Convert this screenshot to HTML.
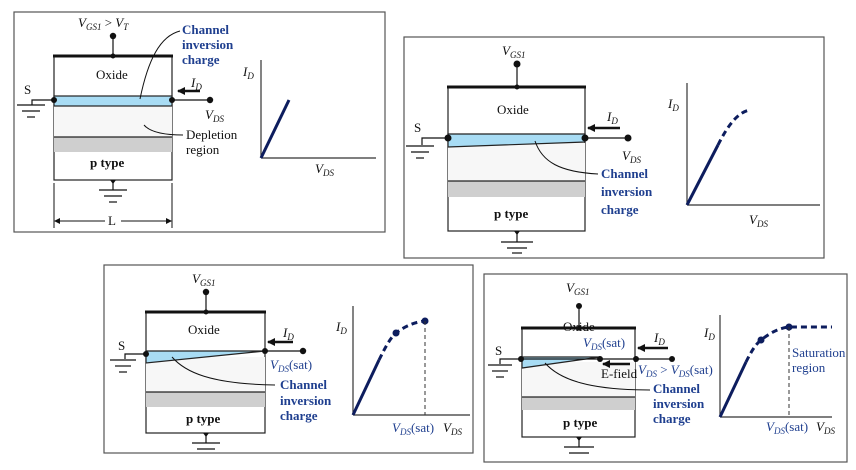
<!DOCTYPE html>
<html><head><meta charset="utf-8"><style>
html,body{margin:0;padding:0;background:#fff}
svg{display:block}
text{font-family:"Liberation Serif",serif;font-size:13px;fill:#111}
.b{fill:#1f3f8f;font-weight:bold}
.bl{fill:#1f3f8f}
.i{font-style:italic}
.s{font-size:9px}
</style></head><body>
<svg width="856" height="470" viewBox="0 0 856 470" xmlns="http://www.w3.org/2000/svg">
<defs>
<marker id="ar" markerWidth="8" markerHeight="8" refX="7" refY="4" orient="auto" markerUnits="userSpaceOnUse"><path d="M0,0 L8,4 L0,8 z" fill="#111"/></marker>
<marker id="ar2" markerWidth="6" markerHeight="6" refX="5" refY="3" orient="auto" markerUnits="userSpaceOnUse"><path d="M0,0 L6,3 L0,6 z" fill="#111"/></marker>
</defs>

<!-- Panel 1 -->
<rect x="14" y="12" width="371" height="220" fill="#fff" stroke="#555" stroke-width="1.2"/>
<rect x="54" y="56" width="118" height="124" fill="#fff" stroke="#222" stroke-width="1.2"/>
<rect x="54" y="106" width="118" height="31" fill="#f7f7f7"/>
<rect x="54" y="137" width="118" height="15" fill="#cfcfcf"/>
<line x1="54" y1="137" x2="172" y2="137" stroke="#222" stroke-width="1.2"/>
<rect x="54" y="96" width="118" height="10" fill="#a8dcf4" stroke="#222" stroke-width="1.2"/>
<line x1="53" y1="56" x2="173" y2="56" stroke="#111" stroke-width="3"/>
<line x1="113" y1="36" x2="113" y2="56" stroke="#111" stroke-width="1.2"/>
<circle cx="113" cy="36" r="3.2" fill="#111"/><circle cx="113" cy="56" r="2.5" fill="#111"/>
<text x="78" y="27" class="i">V<tspan class="s" dy="3">GS1</tspan><tspan dy="-3" font-style="normal"> &gt; </tspan>V<tspan class="s" dy="3">T</tspan></text>
<text x="96" y="79">Oxide</text>
<text x="90" y="167" font-weight="bold">p type</text>
<circle cx="54" cy="100" r="3" fill="#111"/><circle cx="172" cy="100" r="3" fill="#111"/>
<polyline points="53,100 32,100 32,105" fill="none" stroke="#111" stroke-width="1.2"/>
<line x1="17" y1="105" x2="45" y2="105" stroke="#111" stroke-width="1.2"/>
<line x1="22" y1="111" x2="40" y2="111" stroke="#111" stroke-width="1.2"/>
<line x1="27" y1="117" x2="35" y2="117" stroke="#111" stroke-width="1.2"/>
<text x="24" y="94">S</text>
<line x1="172" y1="100" x2="210" y2="100" stroke="#111" stroke-width="1.2"/>
<circle cx="210" cy="100" r="3.2" fill="#111"/>
<line x1="200" y1="91" x2="178" y2="91" stroke="#111" stroke-width="2.5" marker-end="url(#ar)"/>
<text x="191" y="87" class="i">I<tspan class="s" dy="3">D</tspan></text>
<text x="205" y="119" class="i">V<tspan class="s" dy="3">DS</tspan></text>
<path d="M140,99 C148,60 160,36 180,31" fill="none" stroke="#111" stroke-width="1"/>
<text x="182" y="34" class="b">Channel</text><text x="182" y="49" class="b">inversion</text><text x="182" y="64" class="b">charge</text>
<path d="M144,125 C150,132 165,135 183,135" fill="none" stroke="#111" stroke-width="1"/>
<text x="186" y="139">Depletion</text><text x="186" y="154">region</text>
<line x1="113" y1="180" x2="113" y2="190" stroke="#111" stroke-width="1.2"/><path d="M110,180 L116,180 L113,184z" fill="#111"/>
<line x1="99" y1="190" x2="127" y2="190" stroke="#111" stroke-width="1.2"/>
<line x1="104" y1="196" x2="122" y2="196" stroke="#111" stroke-width="1.2"/>
<line x1="109" y1="202" x2="117" y2="202" stroke="#111" stroke-width="1.2"/>
<line x1="54" y1="183" x2="54" y2="228" stroke="#111" stroke-width="1"/>
<line x1="172" y1="183" x2="172" y2="228" stroke="#111" stroke-width="1"/>
<line x1="105" y1="221" x2="55" y2="221" stroke="#111" stroke-width="1" marker-end="url(#ar2)"/>
<line x1="121" y1="221" x2="171" y2="221" stroke="#111" stroke-width="1" marker-end="url(#ar2)"/>
<text x="108" y="225">L</text>
<line x1="261" y1="60" x2="261" y2="158" stroke="#333" stroke-width="1.2"/>
<line x1="261" y1="158" x2="376" y2="158" stroke="#333" stroke-width="1.2"/>
<line x1="261" y1="158" x2="289" y2="100" stroke="#0d1d5e" stroke-width="3"/>
<text x="243" y="76" class="i">I<tspan class="s" dy="3">D</tspan></text>
<text x="315" y="173" class="i">V<tspan class="s" dy="3">DS</tspan></text>

<!-- Panel 2 -->
<rect x="404" y="37" width="420" height="221" fill="#fff" stroke="#555" stroke-width="1.2"/>
<rect x="448" y="87" width="137" height="144" fill="#fff" stroke="#222" stroke-width="1.2"/>
<rect x="448" y="143" width="137" height="38" fill="#f7f7f7"/>
<rect x="448" y="181" width="137" height="16" fill="#cfcfcf"/>
<line x1="448" y1="181" x2="585" y2="181" stroke="#222" stroke-width="1.2"/>
<polygon points="448,134 585,134 585,142 448,147" fill="#a8dcf4" stroke="#222" stroke-width="1.2"/>
<line x1="447" y1="87" x2="586" y2="87" stroke="#111" stroke-width="3"/>
<line x1="517" y1="64" x2="517" y2="87" stroke="#111" stroke-width="1.2"/>
<circle cx="517" cy="64" r="3.5" fill="#111"/><circle cx="517" cy="87" r="2.5" fill="#111"/>
<text x="502" y="55" class="i" font-size="15">V<tspan class="s" dy="3" font-size="10">GS1</tspan></text>
<text x="497" y="114" font-size="14">Oxide</text>
<text x="494" y="218" font-size="14" font-weight="bold">p type</text>
<circle cx="448" cy="138" r="3.5" fill="#111"/><circle cx="585" cy="138" r="3.5" fill="#111"/>
<polyline points="447,138 422,138 422,145" fill="none" stroke="#111" stroke-width="1.2"/>
<line x1="406" y1="146" x2="434" y2="146" stroke="#111" stroke-width="1.2"/>
<line x1="411" y1="152" x2="429" y2="152" stroke="#111" stroke-width="1.2"/>
<line x1="416" y1="158" x2="424" y2="158" stroke="#111" stroke-width="1.2"/>
<text x="414" y="132" font-size="14">S</text>
<line x1="585" y1="138" x2="628" y2="138" stroke="#111" stroke-width="1.2"/>
<circle cx="628" cy="138" r="3.5" fill="#111"/>
<line x1="620" y1="128" x2="588" y2="128" stroke="#111" stroke-width="2.5" marker-end="url(#ar)"/>
<text x="607" y="121" class="i" font-size="15">I<tspan class="s" dy="3" font-size="10">D</tspan></text>
<text x="622" y="160" class="i" font-size="15">V<tspan class="s" dy="3" font-size="10">DS</tspan></text>
<path d="M535,141 C542,162 560,172 598,174" fill="none" stroke="#111" stroke-width="1"/>
<text x="601" y="178" class="b" font-size="15">Channel</text><text x="601" y="196" class="b" font-size="15">inversion</text><text x="601" y="214" class="b" font-size="15">charge</text>
<line x1="517" y1="231" x2="517" y2="242" stroke="#111" stroke-width="1.2"/><path d="M514,231 L520,231 L517,235z" fill="#111"/>
<line x1="501" y1="242" x2="533" y2="242" stroke="#111" stroke-width="1.2"/>
<line x1="507" y1="248" x2="527" y2="248" stroke="#111" stroke-width="1.2"/>
<line x1="512" y1="253" x2="522" y2="253" stroke="#111" stroke-width="1.2"/>
<line x1="687" y1="83" x2="687" y2="205" stroke="#333" stroke-width="1.2"/>
<line x1="687" y1="205" x2="820" y2="205" stroke="#333" stroke-width="1.2"/>
<line x1="687" y1="205" x2="718" y2="145" stroke="#0d1d5e" stroke-width="3"/>
<path d="M718,145 C728,125 738,112 750,110" fill="none" stroke="#0d1d5e" stroke-width="3" stroke-dasharray="6,4"/>
<text x="668" y="108" class="i" font-size="15">I<tspan class="s" dy="3" font-size="10">D</tspan></text>
<text x="749" y="224" class="i" font-size="15">V<tspan class="s" dy="3" font-size="10">DS</tspan></text>

<!-- Panel 3 -->
<rect x="104" y="265" width="369" height="188" fill="#fff" stroke="#555" stroke-width="1.2"/>
<rect x="146" y="312" width="119" height="121" fill="#fff" stroke="#222" stroke-width="1.2"/>
<rect x="146" y="357" width="119" height="35" fill="#f7f7f7"/>
<rect x="146" y="392" width="119" height="15" fill="#cfcfcf"/>
<line x1="146" y1="392" x2="265" y2="392" stroke="#222" stroke-width="1.2"/>
<polygon points="146,351 265,351 146,363" fill="#a8dcf4" stroke="#222" stroke-width="1.2"/>
<line x1="145" y1="312" x2="266" y2="312" stroke="#111" stroke-width="3"/>
<line x1="206" y1="292" x2="206" y2="312" stroke="#111" stroke-width="1.2"/>
<circle cx="206" cy="292" r="3.2" fill="#111"/><circle cx="206" cy="312" r="2.5" fill="#111"/>
<text x="192" y="283" class="i">V<tspan class="s" dy="3">GS1</tspan></text>
<text x="188" y="334">Oxide</text>
<text x="186" y="423" font-weight="bold">p type</text>
<circle cx="146" cy="354" r="3" fill="#111"/><circle cx="265" cy="351" r="3" fill="#111"/>
<polyline points="145,354 125,354 125,359" fill="none" stroke="#111" stroke-width="1.2"/>
<line x1="110" y1="360" x2="136" y2="360" stroke="#111" stroke-width="1.2"/>
<line x1="115" y1="366" x2="131" y2="366" stroke="#111" stroke-width="1.2"/>
<line x1="119" y1="372" x2="127" y2="372" stroke="#111" stroke-width="1.2"/>
<text x="118" y="350">S</text>
<line x1="265" y1="351" x2="303" y2="351" stroke="#111" stroke-width="1.2"/>
<circle cx="303" cy="351" r="3.2" fill="#111"/>
<line x1="293" y1="342" x2="268" y2="342" stroke="#111" stroke-width="2.5" marker-end="url(#ar)"/>
<text x="283" y="337" class="i">I<tspan class="s" dy="3">D</tspan></text>
<text x="270" y="369" class="bl"><tspan class="i">V</tspan><tspan class="s i" dy="3">DS</tspan><tspan dy="-3">(sat)</tspan></text>
<path d="M172,357 C185,372 210,384 275,385" fill="none" stroke="#111" stroke-width="1"/>
<text x="280" y="389" class="b">Channel</text><text x="280" y="405" class="b">inversion</text><text x="280" y="420" class="b">charge</text>
<line x1="206" y1="433" x2="206" y2="443" stroke="#111" stroke-width="1.2"/><path d="M203,433 L209,433 L206,437z" fill="#111"/>
<line x1="192" y1="443" x2="220" y2="443" stroke="#111" stroke-width="1.2"/>
<line x1="197" y1="449" x2="215" y2="449" stroke="#111" stroke-width="1.2"/>
<line x1="353" y1="306" x2="353" y2="415" stroke="#333" stroke-width="1.2"/>
<line x1="353" y1="415" x2="470" y2="415" stroke="#333" stroke-width="1.2"/>
<line x1="353" y1="415" x2="379" y2="360" stroke="#0d1d5e" stroke-width="3"/>
<path d="M379,360 C385,348 390,338 396,333 C405,326 415,322 425,321" fill="none" stroke="#0d1d5e" stroke-width="3" stroke-dasharray="6,4"/>
<circle cx="396" cy="333" r="3.5" fill="#0d1d5e"/><circle cx="425" cy="321" r="3.5" fill="#0d1d5e"/>
<line x1="425" y1="321" x2="425" y2="415" stroke="#333" stroke-width="1" stroke-dasharray="4,3"/>
<text x="336" y="331" class="i">I<tspan class="s" dy="3">D</tspan></text>
<text x="392" y="432" class="bl"><tspan class="i">V</tspan><tspan class="s i" dy="3">DS</tspan><tspan dy="-3">(sat)</tspan></text>
<text x="443" y="432" class="i">V<tspan class="s" dy="3">DS</tspan></text>

<!-- Panel 4 -->
<rect x="484" y="274" width="363" height="188" fill="#fff" stroke="#555" stroke-width="1.2"/>
<rect x="522" y="328" width="113" height="109" fill="#fff" stroke="#222" stroke-width="1.2"/>
<rect x="522" y="362" width="113" height="35" fill="#f7f7f7"/>
<rect x="522" y="397" width="113" height="13" fill="#cfcfcf"/>
<line x1="522" y1="397" x2="635" y2="397" stroke="#222" stroke-width="1.2"/>
<polygon points="522,357 600,357 522,368" fill="#a8dcf4" stroke="#222" stroke-width="1.2"/>
<line x1="522" y1="359" x2="672" y2="359" stroke="#111" stroke-width="1.2"/>
<line x1="521" y1="328" x2="636" y2="328" stroke="#111" stroke-width="3"/>
<line x1="579" y1="306" x2="579" y2="328" stroke="#111" stroke-width="1.2"/>
<circle cx="579" cy="306" r="3" fill="#111"/><circle cx="579" cy="328" r="2.5" fill="#111"/>
<text x="566" y="292" class="i" font-size="12">V<tspan class="s" dy="3">GS1</tspan></text>
<text x="563" y="331" font-size="12">Oxide</text>
<text x="563" y="427" font-size="12" font-weight="bold">p type</text>
<circle cx="521" cy="359" r="3" fill="#111"/><circle cx="600" cy="359" r="3" fill="#111"/>
<circle cx="636" cy="359" r="3" fill="#111"/><circle cx="672" cy="359" r="3" fill="#111"/>
<polyline points="521,359 500,359 500,364" fill="none" stroke="#111" stroke-width="1.2"/>
<line x1="488" y1="365" x2="512" y2="365" stroke="#111" stroke-width="1.2"/>
<line x1="492" y1="371" x2="508" y2="371" stroke="#111" stroke-width="1.2"/>
<line x1="496" y1="377" x2="504" y2="377" stroke="#111" stroke-width="1.2"/>
<text x="495" y="355" font-size="12">S</text>
<line x1="668" y1="348" x2="638" y2="348" stroke="#111" stroke-width="2.5" marker-end="url(#ar)"/>
<text x="654" y="342" class="i" font-size="12">I<tspan class="s" dy="3">D</tspan></text>
<line x1="630" y1="364" x2="603" y2="364" stroke="#111" stroke-width="2.5" marker-end="url(#ar)"/>
<text x="601" y="378" font-size="12">E-field</text>
<text x="583" y="347" class="bl" font-size="12"><tspan class="i">V</tspan><tspan class="s i" dy="3">DS</tspan><tspan dy="-3">(sat)</tspan></text>
<text x="638" y="374" class="bl" font-size="12"><tspan class="i">V</tspan><tspan class="s i" dy="3">DS</tspan><tspan dy="-3"> &gt; </tspan><tspan class="i">V</tspan><tspan class="s i" dy="3">DS</tspan><tspan dy="-3">(sat)</tspan></text>
<path d="M545,363 C560,380 590,390 650,390" fill="none" stroke="#111" stroke-width="1"/>
<text x="653" y="393" class="b" font-size="12">Channel</text><text x="653" y="408" class="b" font-size="12">inversion</text><text x="653" y="423" class="b" font-size="12">charge</text>
<line x1="579" y1="437" x2="579" y2="447" stroke="#111" stroke-width="1.2"/><path d="M576,437 L582,437 L579,441z" fill="#111"/>
<line x1="564" y1="447" x2="594" y2="447" stroke="#111" stroke-width="1.2"/>
<line x1="569" y1="453" x2="589" y2="453" stroke="#111" stroke-width="1.2"/>
<line x1="720" y1="315" x2="720" y2="417" stroke="#333" stroke-width="1.2"/>
<line x1="720" y1="417" x2="832" y2="417" stroke="#333" stroke-width="1.2"/>
<line x1="720" y1="417" x2="746" y2="362" stroke="#0d1d5e" stroke-width="3"/>
<path d="M746,362 C751,352 755,345 761,340 C770,333 779,328 789,327 L832,327" fill="none" stroke="#0d1d5e" stroke-width="3" stroke-dasharray="6,4"/>
<circle cx="761" cy="340" r="3.5" fill="#0d1d5e"/><circle cx="789" cy="327" r="3.5" fill="#0d1d5e"/>
<line x1="789" y1="327" x2="789" y2="417" stroke="#333" stroke-width="1" stroke-dasharray="4,3"/>
<text x="792" y="357" class="bl" font-size="10.5">Saturation</text><text x="792" y="372" class="bl" font-size="10.5">region</text>
<text x="704" y="337" class="i" font-size="12">I<tspan class="s" dy="3">D</tspan></text>
<text x="766" y="431" class="bl" font-size="12"><tspan class="i">V</tspan><tspan class="s i" dy="3">DS</tspan><tspan dy="-3">(sat)</tspan></text>
<text x="816" y="431" class="i" font-size="12">V<tspan class="s" dy="3">DS</tspan></text>
</svg>
</body></html>
